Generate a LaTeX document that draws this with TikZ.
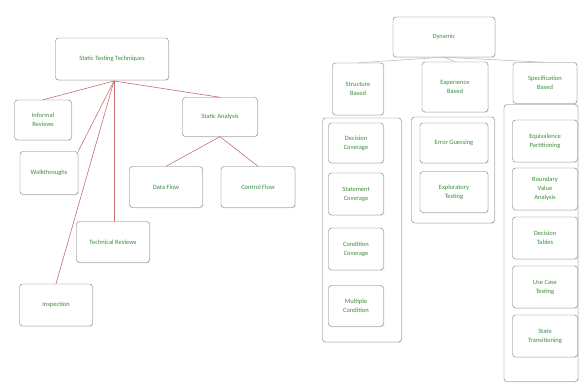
\documentclass[tikz,border=0pt]{standalone}
\usepackage{fontspec}
\setmainfont{Carlito}
\usepackage{tikz}
\usetikzlibrary{shadows}
\definecolor{linered}{RGB}{196,110,110}
\definecolor{boxgreen}{RGB}{60,140,60}

\begin{document}
\begin{tikzpicture}[line cap=round,line join=round,x=1pt,y=-1pt,
  box/.style={draw=black!55,rounded corners=3pt,align=center,text=boxgreen,
    font=\fontsize{6.5}{9}\selectfont,inner sep=1pt,fill=white,
    drop shadow={opacity=0.15,shadow xshift=0.8pt,shadow yshift=-0.8pt}},
  group/.style={draw=black!55,rounded corners=3pt,fill=white,
    drop shadow={opacity=0.15,shadow xshift=0.8pt,shadow yshift=-0.8pt}},
  link/.style={color=linered,line width=0.6pt},
  dlink/.style={color=black!25,line width=0.6pt}]
\useasboundingbox (0,0) rectangle (579,390);
% static side
\node[box,minimum width=113,minimum height=42] (stt) at (112,59) {Static Testing Techniques};
\node[box,minimum width=57,minimum height=40] (inf) at (43,120) {Informal\\Reviews};
\node[box,minimum width=58,minimum height=43] (walk) at (49,173) {Walkthroughs};
\node[box,minimum width=73,minimum height=41] (tech) at (113,242) {Technical Reviews};
\node[box,minimum width=73,minimum height=42] (insp) at (56,305) {Inspection};
\node[box,minimum width=75,minimum height=39] (sa) at (220,117) {Static Analysis};
\node[box,minimum width=73,minimum height=41] (df) at (166,187) {Data Flow};
\node[box,minimum width=74,minimum height=41] (cf) at (258,187) {Control Flow};
\coordinate (hub) at (114,81);
\draw[link] (hub) -- (inf.north);
\draw[link] (hub) -- (walk.north east);
\draw[link] (hub) -- (tech.north -| hub);
\draw[link] (hub) -- (insp.north);
\draw[link] (hub) -- (sa.north);
\draw[link] (sa.south) -- (df.north);
\draw[link] (sa.south) -- (cf.north);
% dynamic side
\node[box,minimum width=102,minimum height=40] (dyn) at (444,37) {Dynamic};
\node[box,minimum width=51,minimum height=52] (struct) at (358,89) {Structure\\Based};
\node[box,minimum width=66,minimum height=50] (exp) at (455,87) {Experience\\Based};
\node[box,minimum width=64,minimum height=41] (spec) at (545,83) {Specification\\Based};
\draw[dlink] (dyn.south) -- (struct.north);
\draw[dlink] (dyn.south) -- (exp.north);
\draw[dlink] (dyn.south) -- (spec.north);
\node[group,minimum width=79,minimum height=224] (structgrp) at (362,230) {};
\node[group,minimum width=83,minimum height=106] (expgrp) at (453,170) {};
\node[group,minimum width=74,minimum height=277] (specgrp) at (541,243) {};
\node[box,minimum width=55,minimum height=40] (dec) at (356,143) {Decision\\Coverage};
\node[box,minimum width=55,minimum height=42] (stmt) at (356,194) {Statement\\Coverage};
\node[box,minimum width=55,minimum height=42] (cond) at (356,249) {Condition\\Coverage};
\node[box,minimum width=55,minimum height=41] (mult) at (356,306) {Multiple\\Condition};
\node[box,minimum width=68,minimum height=40] (err) at (454,143) {Error Guessing};
\node[box,minimum width=68,minimum height=41] (expl) at (454,192) {Exploratory\\Testing};
\node[box,minimum width=65,minimum height=42] (equiv) at (545,141) {Equivalence\\Partitioning};
\node[box,minimum width=65,minimum height=42] (bva) at (545,189) {Boundary\\Value\\Analysis};
\node[box,minimum width=65,minimum height=42] (dtab) at (545,238) {Decision\\Tables};
\node[box,minimum width=65,minimum height=42] (ucase) at (545,287) {Use Case\\Testing};
\node[box,minimum width=65,minimum height=42] (state) at (545,336) {State\\Transitioning};
\end{tikzpicture}
\end{document}
